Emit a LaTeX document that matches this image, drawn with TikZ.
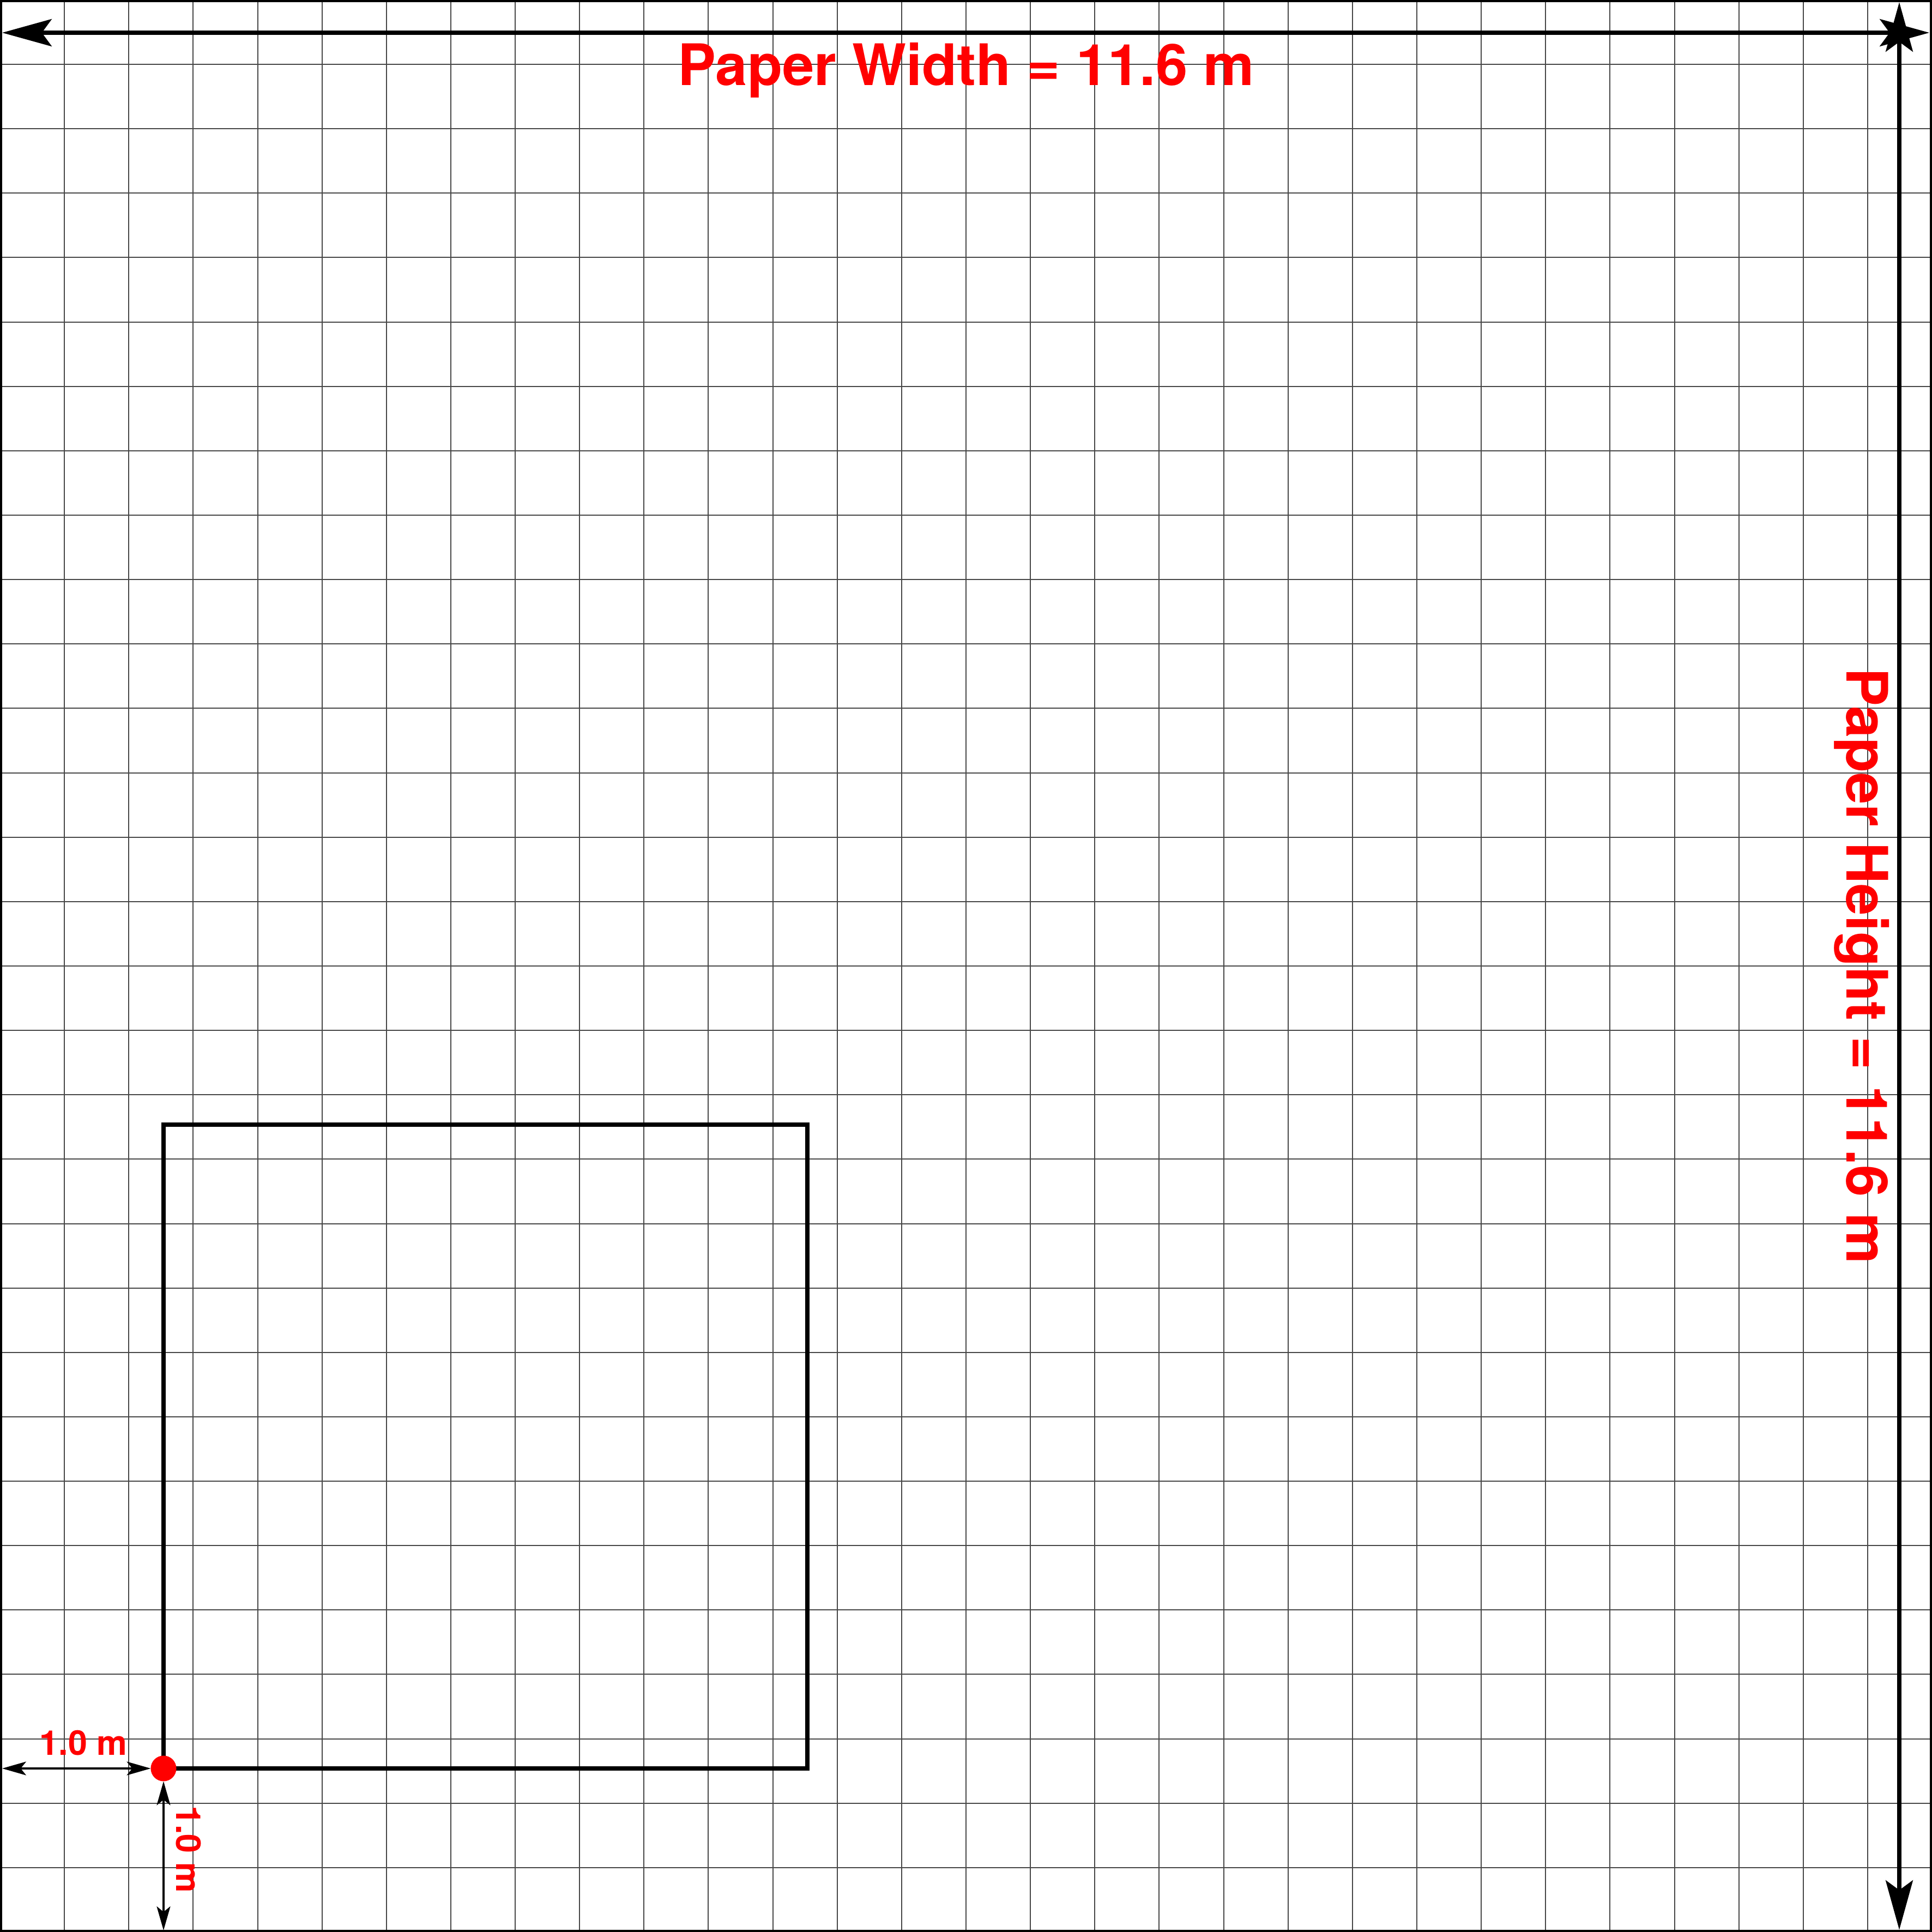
\documentclass[tikz,border=0pt]{standalone}
\usepackage{fontspec}
\setmainfont{TeX Gyre Heros}
\usetikzlibrary{arrows.meta}
\tikzset{
  gridline/.style={draw=black!72, line width=0.19pt},
  frameline/.style={draw=black, line width=0.378pt},
  squareline/.style={draw=black, line width=0.756pt, line join=miter},
  bigarrow/.style={draw=black, line width=0.709pt,
    {Stealth[length=8.6pt, width=4.72pt, inset=1.7pt]}-{Stealth[length=8.6pt, width=4.72pt, inset=1.7pt]}},
  smallarrow/.style={draw=black, line width=0.378pt,
    {Stealth[length=4.16pt, width=2.36pt, inset=0.95pt]}-{Stealth[length=4.16pt, width=2.36pt, inset=0.95pt]}},
  bigtext/.style={text=red, inner sep=0pt, anchor=base, font=\fontsize{9.95}{12}\selectfont\bfseries},
  smalltext/.style={text=red, inner sep=0pt, anchor=base, font=\fontsize{5.95}{7}\selectfont\bfseries},
  dot/.style={circle, fill=red, inner sep=0pt, outer sep=0pt, minimum size=0.1567cm}
}
\begin{document}
\begin{tikzpicture}[x=1cm, y=1cm]
\useasboundingbox (0,0) rectangle (11.81333,11.81333);
% grid
\draw[gridline] (0,0) grid[step=0.393778] (11.81333,11.81333);
% frame
\draw[frameline] (0.00667,0.00667) rectangle (11.80667,11.80667);
% square
\draw[squareline] (1,1) rectangle (4.93778,4.93778);
% paper dimension arrows
\coordinate (wL) at (0.0133,11.6133);
\coordinate (wR) at (11.7967,11.6133);
\coordinate (hT) at (11.6133,11.8000);
\coordinate (hB) at (11.6133,0.0133);
\draw[bigarrow] (wL) -- (wR);
\draw[bigarrow] (hT) -- (hB);
% origin point and offset arrows
\node[dot] (origin) at (1,1) {};
\coordinate (offL) at (0.0133,1);
\coordinate (offB) at (1,0.0100);
\draw[smallarrow] (offL) -- (origin);
\draw[smallarrow] (origin) -- (offB);
% labels
\node[bigtext] (wlabel) at (5.90667,11.291) {Paper Width = 11.6 m};
\node[bigtext, rotate=-90] (hlabel) at (11.291,5.90667) {Paper Height = 11.6 m};
\node[smalltext] (xlabel) at (0.51,1.0833) {1.0 m};
\node[smalltext, rotate=-90] (ylabel) at (1.0767,0.505) {1.0 m};
\end{tikzpicture}
\end{document}
